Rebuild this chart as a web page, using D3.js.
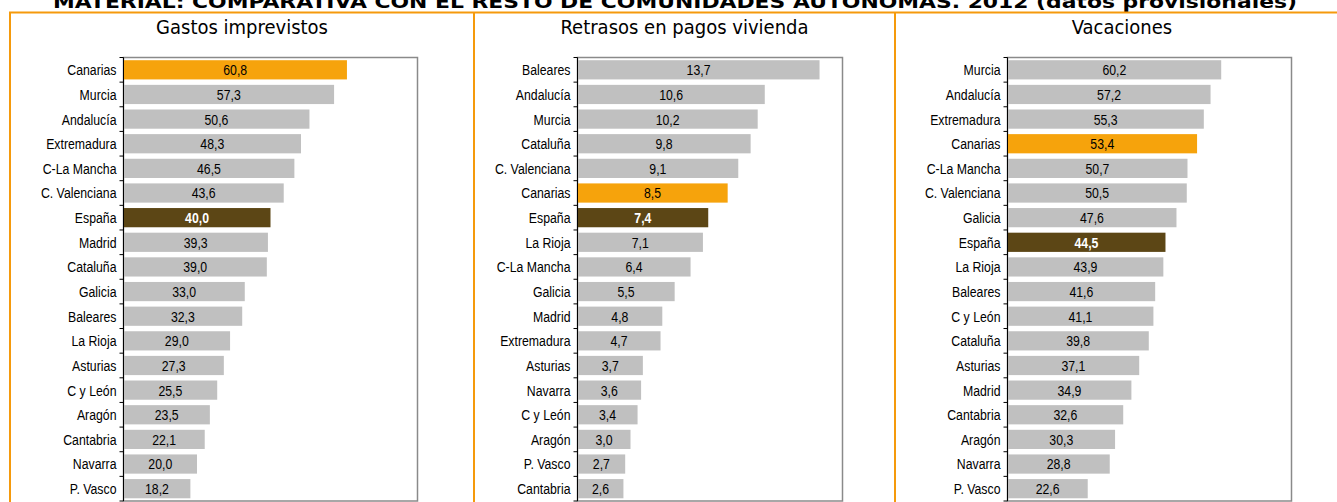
<!DOCTYPE html>
<html>
<head>
<meta charset="utf-8">
<script src="https://cdn.jsdelivr.net/npm/d3@7"></script>
<style>
  body { margin: 0; background: #fff; }
  svg { display: block; }
  .main-title { font-family: "DejaVu Sans", Verdana, sans-serif; font-weight: bold; font-size: 18px; fill: #000; }
  .panel-title { font-family: "DejaVu Sans Condensed", "DejaVu Sans", sans-serif; font-size: 20px; fill: #000; }
  .cat-label, .val-label { font-family: "Liberation Sans", Arial, sans-serif; font-size: 15px; fill: #000; }
</style>
</head>
<body>
<svg id="chart"></svg>
<script>
// data
const gastosRegions = ['Canarias', 'Murcia', 'Andalucía', 'Extremadura', 'C-La Mancha', 'C. Valenciana', 'España', 'Madrid', 'Cataluña', 'Galicia', 'Baleares', 'La Rioja', 'Asturias', 'C y León', 'Aragón', 'Cantabria', 'Navarra', 'P. Vasco'];
const gastosValues = [60.8, 57.3, 50.6, 48.3, 46.5, 43.6, 40.0, 39.3, 39.0, 33.0, 32.3, 29.0, 27.3, 25.5, 23.5, 22.1, 20.0, 18.2];

const retrasosRegions = ['Baleares', 'Andalucía', 'Murcia', 'Cataluña', 'C. Valenciana', 'Canarias', 'España', 'La Rioja', 'C-La Mancha', 'Galicia', 'Madrid', 'Extremadura', 'Asturias', 'Navarra', 'C y León', 'Aragón', 'P. Vasco', 'Cantabria'];
const retrasosValues = [13.7, 10.6, 10.2, 9.8, 9.1, 8.5, 7.4, 7.1, 6.4, 5.5, 4.8, 4.7, 3.7, 3.6, 3.4, 3.0, 2.7, 2.6];

const vacacionesRegions = ['Murcia', 'Andalucía', 'Extremadura', 'Canarias', 'C-La Mancha', 'C. Valenciana', 'Galicia', 'España', 'La Rioja', 'Baleares', 'C y León', 'Cataluña', 'Asturias', 'Madrid', 'Cantabria', 'Aragón', 'Navarra', 'P. Vasco'];
const vacacionesValues = [60.2, 57.2, 55.3, 53.4, 50.7, 50.5, 47.6, 44.5, 43.9, 41.6, 41.1, 39.8, 37.1, 34.9, 32.6, 30.3, 28.8, 22.6];

const panelTitles = ['Gastos imprevistos', 'Retrasos en pagos vivienda', 'Vacaciones'];
const mainTitle = 'MATERIAL: COMPARATIVA CON EL RESTO DE COMUNIDADES AUTÓNOMAS. 2012 (datos provisionales)';

const width = 1337;
const height = 502;
const frameColor = '#f59a0c';
const narrow = 0.82; // squeeze Liberation Sans to look like Arial Narrow

const svg = d3.select('#chart').attr('width', width).attr('height', height);

// layout of the three panels
const panels = [
  { title: panelTitles[0], regions: gastosRegions, values: gastosValues, max: 80, left: 123.5, right: 417.5, center: 242 },
  { title: panelTitles[1], regions: retrasosRegions, values: retrasosValues, max: 15, left: 577.5, right: 842.5, center: 684.5 },
  { title: panelTitles[2], regions: vacacionesRegions, values: vacacionesValues, max: 80, left: 1007.5, right: 1291.5, center: 1122 },
];

svg.append('text')
  .attr('class', 'main-title')
  .attr('x', 53)
  .attr('y', 7.5)
  .attr('textLength', 1244)
  .attr('lengthAdjust', 'spacingAndGlyphs')
  .text(mainTitle);

// orange frame
svg.append('line')
  .attr('x1', 9).attr('x2', width)
  .attr('y1', 12.5).attr('y2', 12.5)
  .attr('stroke', frameColor).attr('stroke-width', 2);
[10, 474, 895].forEach((x) => {
  svg.append('line')
    .attr('x1', x).attr('x2', x)
    .attr('y1', 12).attr('y2', height)
    .attr('stroke', frameColor).attr('stroke-width', 2);
});

const fmt = (v) => v.toFixed(1).replace('.', ',');

function barColor(region) {
  if (region === 'Canarias') return '#f6a30c';
  if (region === 'España') return '#5c4615';
  return '#c0c0c0';
}

function drawPanel(p) {
  const top = 57.5;
  const bottom = 501;
  const g = svg.append('g');

  g.append('text')
    .attr('class', 'panel-title')
    .attr('x', p.center)
    .attr('y', 34)
    .attr('text-anchor', 'middle')
    .text(p.title);

  const x = d3.scaleLinear().domain([0, p.max]).range([p.left, p.right]);
  const y = d3.scaleBand()
    .domain(p.regions)
    .range([top, bottom])
    .paddingInner(0.22)
    .paddingOuter(0.11);

  // plot area border
  g.append('rect')
    .attr('x', p.left).attr('y', top)
    .attr('width', p.right - p.left).attr('height', bottom - top)
    .attr('fill', '#fff')
    .attr('stroke', '#8a8a8a')
    .attr('stroke-width', 1.5);

  const rows = p.regions.map((r, i) => ({ region: r, value: p.values[i] }));

  g.selectAll('.bar')
    .data(rows)
    .join('rect')
    .attr('class', 'bar')
    .attr('x', x(0))
    .attr('y', (d) => y(d.region))
    .attr('width', (d) => x(d.value) - x(0))
    .attr('height', y.bandwidth())
    .attr('fill', (d) => barColor(d.region));

  g.selectAll('.val-label')
    .data(rows)
    .join('text')
    .attr('class', 'val-label')
    .attr('transform', (d) => `translate(${(x(0) + x(d.value)) / 2},${y(d.region) + y.bandwidth() / 2}) scale(${narrow},1)`)
    .attr('dy', '0.36em')
    .attr('text-anchor', 'middle')
    .style('fill', (d) => (d.region === 'España' ? '#fff' : '#000'))
    .style('font-weight', (d) => (d.region === 'España' ? 'bold' : 'normal'))
    .text((d) => fmt(d.value));

  g.selectAll('.cat-label')
    .data(rows)
    .join('text')
    .attr('class', 'cat-label')
    .attr('transform', (d) => `translate(${p.left - 7},${y(d.region) + y.bandwidth() / 2}) scale(${narrow},1)`)
    .attr('dy', '0.36em')
    .attr('text-anchor', 'end')
    .text((d) => d.region);

  // category axis with ticks between bands
  g.append('line')
    .attr('x1', p.left).attr('x2', p.left)
    .attr('y1', top).attr('y2', bottom)
    .attr('stroke', '#000');
  const step = y.step();
  const ticks = d3.range(p.regions.length + 1).map((i) => top + i * step);
  g.selectAll('.tick-mark')
    .data(ticks)
    .join('line')
    .attr('class', 'tick-mark')
    .attr('x1', p.left - 4).attr('x2', p.left)
    .attr('y1', (d) => d).attr('y2', (d) => d)
    .attr('stroke', '#000');
}

panels.forEach(drawPanel);
</script>
</body>
</html>
